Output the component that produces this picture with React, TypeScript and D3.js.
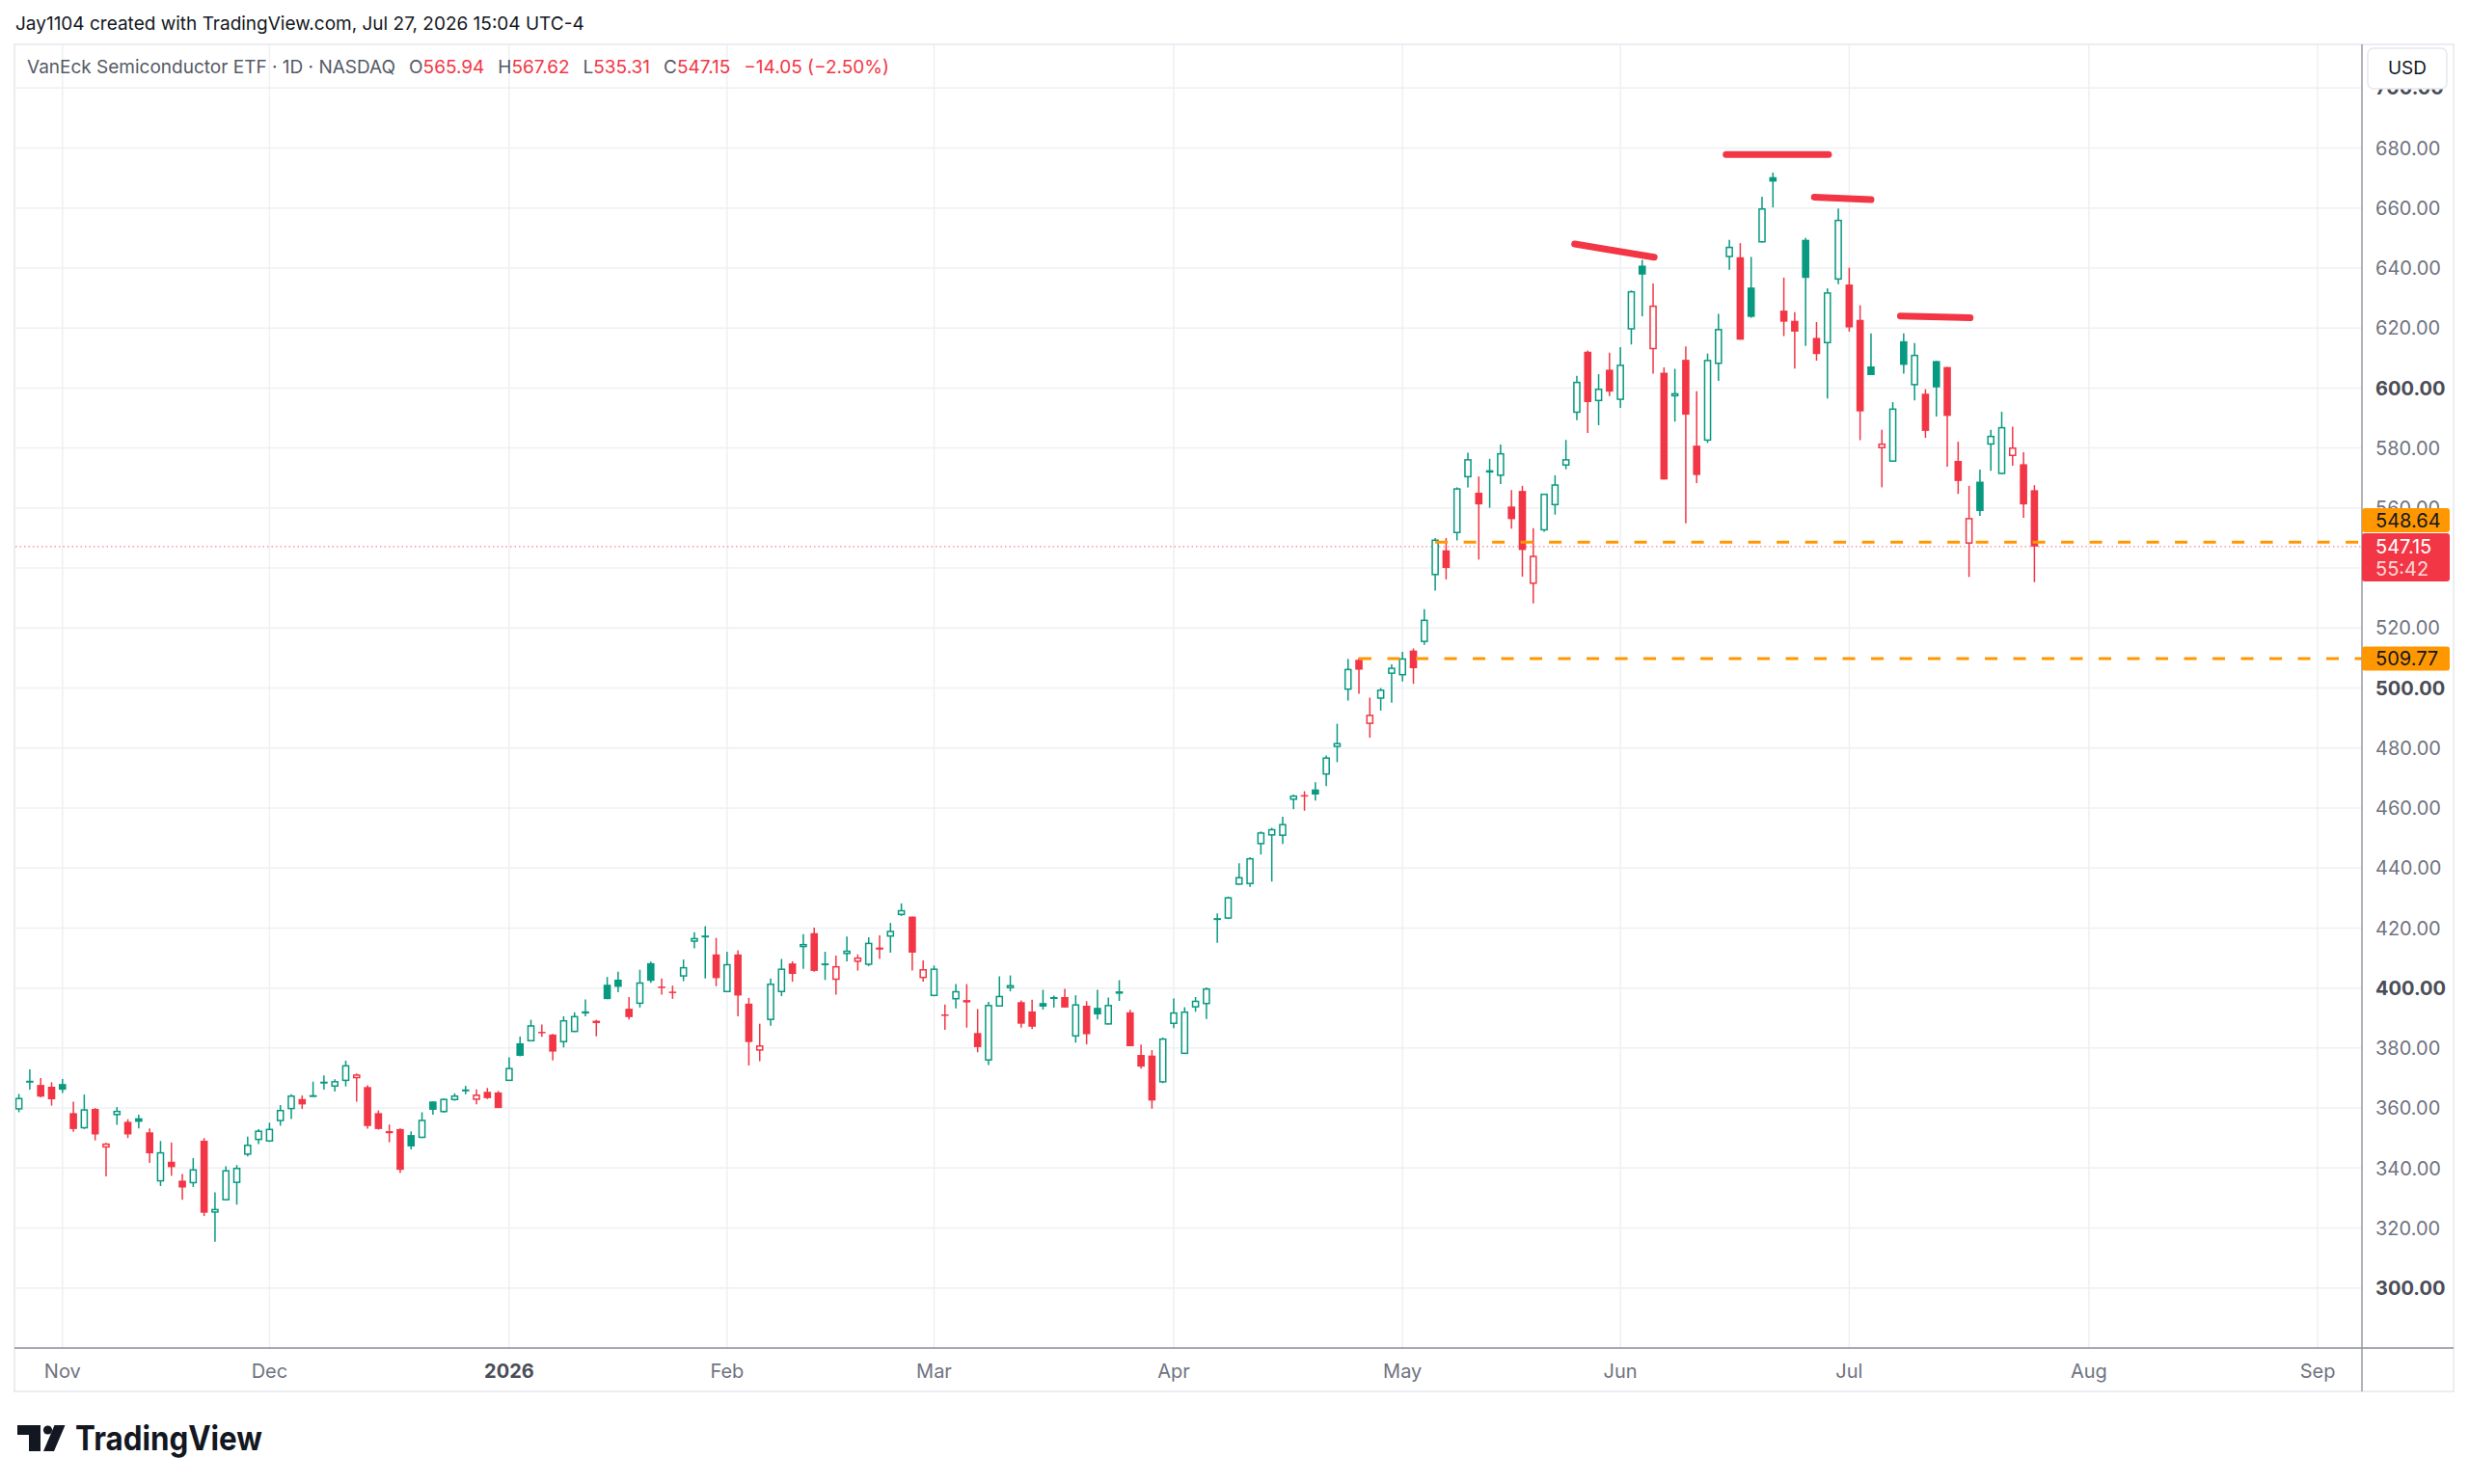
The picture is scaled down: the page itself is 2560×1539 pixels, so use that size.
import React from "react";
import * as d3 from "d3";

// daily OHLC, Oct 28 2025 .. Jul 27 2026 (one entry per trading day)
const opens = [
  359.5, 368.9, 367.7, 367.1,
  368.0, 358.3, 353.2, 359.7, 346.8, 357.6, 355.4, 356.6, 351.9, 335.5, 342.1, 335.8, 334.9, 349.1, 325.1, 329.2, 335.0, 344.4, 349.3,
  348.8, 355.6, 359.6, 363.0, 364.0, 368.2, 367.1, 369.0, 369.9, 367.0, 358.3, 351.6, 353.0, 351.0, 350.0, 362.2, 358.6, 362.6, 366.0, 362.7, 365.4, 365.2,
  369.0, 381.6, 382.2, 385.4, 384.5, 381.9, 385.3, 392.2, 389.1, 401.1, 402.8, 393.1, 394.7, 408.3, 400.5, 398.8, 403.8, 415.4, 417.3, 411.2,
  398.6, 411.2, 394.8, 379.1, 389.3, 398.6, 408.2, 413.6, 418.3, 408.2, 402.7, 411.3, 408.7, 407.7, 413.5, 417.1, 424.3, 423.8, 403.3,
  397.3, 391.2, 396.2, 396.0, 385.0, 375.8, 393.8, 399.9, 395.3, 392.2, 395.0, 396.8, 397.0, 383.8, 394.1, 393.4, 387.8, 398.1, 391.9, 377.7, 377.5, 368.5,
  388.0, 378.0, 393.5, 394.6, 423.0, 423.1, 434.4, 434.6, 447.9, 450.8, 450.7, 462.7, 464.3, 466.2, 471.1, 480.3, 499.4, 509.4, 488.0, 496.4, 504.7,
  504.2, 512.5, 515.3, 537.6, 545.9, 551.6, 570.2, 565.1, 571.8, 570.7, 560.5, 565.7, 534.7, 552.5, 560.9, 574.1, 591.7, 612.1, 595.6, 606.1,
  596.0, 619.5, 640.8, 612.9, 605.1, 597.2, 609.4, 580.8, 582.4, 608.0, 643.6, 643.6, 633.5, 648.5, 670.3, 625.8, 622.4, 649.4, 616.7, 614.9, 636.1,
  634.5, 622.7, 607.2, 579.9, 575.4, 615.6, 600.9, 598.1, 609.0, 607.0, 575.7, 548.1, 568.8, 581.1, 571.3, 577.3, 574.6, 565.94,
];
const highs = [
  364.7, 372.9, 370.0, 368.6,
  369.7, 362.1, 364.5, 360.0, 348.4, 360.3, 356.3, 357.8, 353.2, 349.0, 348.5, 338.0, 343.3, 350.0, 331.9, 340.6, 341.0, 350.5, 353.0,
  355.1, 361.0, 364.6, 364.2, 368.8, 370.9, 369.6, 375.8, 371.5, 367.6, 359.2, 354.5, 353.2, 352.2, 358.6, 362.2, 363.2, 364.9, 367.4, 366.2, 366.7, 365.7,
  376.9, 383.8, 389.4, 387.8, 384.7, 390.6, 391.9, 396.2, 389.4, 403.7, 405.4, 397.0, 406.1, 408.8, 403.2, 400.8, 409.5, 418.6, 420.6, 416.7,
  412.1, 412.6, 396.7, 388.1, 403.2, 409.7, 408.9, 418.0, 420.1, 412.1, 410.8, 417.2, 411.2, 416.9, 417.6, 421.7, 428.2, 423.8, 409.2,
  407.5, 394.5, 401.3, 401.3, 393.0, 395.4, 403.9, 404.2, 395.9, 396.1, 399.4, 397.5, 399.7, 397.6, 395.6, 399.4, 396.8, 402.6, 392.7, 381.2, 379.3, 383.5,
  396.5, 393.6, 397.0, 400.2, 424.9, 430.5, 441.6, 443.6, 452.2, 453.4, 457.1, 464.5, 465.6, 468.6, 477.5, 488.1, 509.7, 510.1, 496.8, 500.0, 507.9,
  512.1, 513.2, 526.3, 550.0, 550.0, 566.9, 578.4, 570.5, 576.4, 581.2, 566.0, 567.4, 553.3, 564.8, 570.9, 582.7, 604.1, 612.5, 604.6, 611.8,
  613.6, 632.5, 642.7, 634.8, 606.9, 606.4, 613.9, 598.9, 611.5, 624.7, 649.4, 648.3, 643.7, 663.8, 671.8, 636.8, 625.3, 650.0, 622.0, 633.2, 659.8,
  640.1, 627.6, 618.2, 586.1, 595.3, 618.2, 615.0, 599.6, 609.0, 607.0, 582.1, 567.4, 572.8, 586.1, 592.1, 587.1, 578.6, 567.62,
];
const lows = [
  358.6, 366.1, 363.6, 360.8,
  365.0, 352.1, 353.0, 349.2, 337.2, 354.4, 350.0, 353.2, 341.7, 334.0, 337.4, 329.4, 333.7, 324.0, 315.4, 329.2, 327.8, 343.9, 348.0,
  348.7, 354.1, 356.3, 359.7, 364.0, 366.1, 365.5, 367.2, 362.1, 353.1, 352.8, 348.6, 338.3, 346.2, 350.0, 357.8, 358.4, 362.4, 364.6, 361.2, 363.0, 360.0,
  369.0, 377.2, 382.2, 383.7, 375.9, 380.2, 385.3, 390.6, 383.9, 396.3, 398.6, 389.5, 393.5, 401.7, 397.8, 396.4, 402.3, 413.2, 403.2, 400.6,
  398.6, 390.6, 374.2, 375.6, 387.4, 397.3, 402.1, 406.4, 405.4, 402.7, 397.8, 408.9, 405.8, 407.3, 409.7, 411.8, 424.0, 405.8, 402.1,
  397.3, 386.1, 393.2, 386.8, 378.6, 374.3, 393.8, 398.9, 386.8, 386.3, 392.8, 393.5, 393.5, 381.8, 381.2, 389.5, 387.8, 395.7, 380.6, 373.1, 359.8, 368.3,
  386.6, 378.0, 392.1, 389.7, 415.1, 423.0, 434.4, 433.7, 444.5, 435.5, 448.0, 459.6, 459.1, 462.5, 467.3, 475.3, 495.8, 498.1, 483.4, 492.5, 495.1,
  502.2, 501.4, 514.4, 532.5, 536.2, 549.2, 566.9, 542.8, 560.1, 568.0, 553.1, 537.1, 528.2, 552.1, 557.8, 572.9, 589.3, 585.0, 587.6, 597.3,
  593.4, 614.5, 623.9, 604.8, 569.5, 588.8, 554.9, 568.3, 581.7, 602.4, 639.4, 616.1, 623.4, 648.5, 660.2, 617.3, 606.5, 614.0, 609.1, 596.5, 634.6,
  618.8, 582.6, 604.3, 566.9, 575.4, 604.8, 595.9, 583.4, 590.5, 573.8, 564.7, 537.0, 557.4, 572.4, 571.3, 574.1, 556.7, 535.31,
];
const closes = [
  363.4, 369.1, 363.8, 362.9,
  366.1, 353.0, 359.6, 351.2, 348.2, 359.1, 351.2, 355.4, 344.9, 345.3, 340.3, 333.5, 339.6, 325.1, 326.4, 339.3, 340.1, 347.8, 352.5,
  353.1, 359.4, 364.2, 361.2, 364.3, 368.8, 369.0, 374.3, 371.2, 354.0, 353.0, 352.3, 339.4, 347.2, 356.1, 359.4, 363.1, 364.2, 366.2, 364.5, 363.3, 360.0,
  373.4, 377.4, 387.6, 385.1, 378.8, 389.3, 390.7, 391.5, 388.3, 396.3, 400.4, 390.3, 401.9, 402.4, 400.3, 398.6, 407.0, 416.7, 417.5, 403.3,
  408.0, 397.5, 382.0, 380.9, 401.5, 406.5, 404.7, 414.7, 405.7, 407.6, 407.3, 412.5, 410.2, 415.1, 412.8, 419.1, 426.0, 411.8, 406.3,
  406.5, 391.0, 399.0, 395.2, 380.3, 394.4, 397.4, 401.0, 388.1, 387.1, 393.8, 397.0, 393.5, 394.6, 384.6, 391.2, 394.4, 398.9, 380.6, 373.8, 362.5, 383.2,
  391.9, 392.2, 395.8, 399.9, 423.3, 430.3, 437.0, 443.3, 451.9, 453.0, 454.7, 464.2, 464.0, 464.5, 476.9, 481.7, 506.4, 506.1, 491.1, 499.5, 506.8,
  509.9, 506.6, 522.8, 549.5, 540.0, 566.6, 576.3, 561.2, 572.6, 578.3, 556.3, 546.0, 544.1, 564.8, 567.9, 576.3, 602.1, 595.3, 599.8, 598.8,
  607.8, 632.3, 637.8, 627.5, 569.5, 598.3, 591.1, 571.0, 609.4, 619.7, 647.1, 616.1, 623.7, 659.9, 668.8, 622.1, 618.8, 636.7, 611.3, 631.9, 656.1,
  620.2, 592.2, 604.3, 581.5, 593.2, 607.7, 611.1, 585.7, 600.2, 590.7, 569.0, 556.7, 559.0, 584.1, 587.0, 580.2, 561.2, 547.15,
];

// time axis: label and the bar index of the first trading day of that month
const monthLabels = ["Nov", "Dec", "2026", "Feb", "Mar", "Apr", "May", "Jun", "Jul", "Aug", "Sep"];
const monthBars = [4, 23, 45, 65, 84, 106, 127, 147, 168, 190, 211];

const priceTicks = [300, 320, 340, 360, 380, 400, 420, 440, 460, 480, 500, 520, 540, 560, 580, 600, 620, 640, 660, 680, 700];
// 540 sits fully under the last-price tag, so no label is drawn for it
const hiddenTicks = [540];

// horizontal rays drawn on the chart
const rayPrices = [548.64, 509.77];
const rayStartBars = [130, 123];

// hand-drawn marks above the tops: [bar0, price0, bar1, price1]
const marks = [
  [142.8, 648.0, 150.1, 643.6],
  [156.7, 677.8, 166.1, 677.8],
  [164.8, 663.6, 170.0, 662.8],
  [172.7, 624.0, 179.1, 623.4],
];

const legendName = "VanEck Semiconductor ETF · 1D · NASDAQ";
const legendKeys = ["O", "H", "L", "C"];
const legendVals = ["565.94", "567.62", "535.31", "547.15"];
const legendChange = "−14.05 (−2.50%)";
const lastPrice = 547.15;
const countdown = "55:42";

const UP = "#089981";
const DOWN = "#f23645";
const FONT = "Inter, 'Noto Sans', sans-serif";

const App: React.FC = () => {
  const width = 2560;
  const height = 1539;
  const plot = { left: 16, right: 2449, top: 46, bottom: 1398 };
  const frameRight = 2544;
  const frameBottom = 1443;

  const x = d3.scaleLinear().domain([0, 211]).range([19.6, 2403.1]);
  const y = d3.scaleLinear().domain([280, 714.55]).range([plot.bottom, plot.top]);

  const bodyW = 7.6;

  return (
    <svg
      width={width}
      height={height}
      style={{ position: "absolute", left: 0, top: 0, background: "#ffffff" }}
      fontFamily={FONT}
    >
      <rect width={width} height={height} fill="#ffffff" />

      {/* top caption */}
      <text x={16} y={31} fontSize={19} fill="#131722">
        Jay1104 created with TradingView.com, Jul 27, 2026 15:04 UTC-4
      </text>

      <defs>
        <clipPath id="plotClip">
          <rect x={plot.left} y={plot.top} width={plot.right - plot.left} height={plot.bottom - plot.top} />
        </clipPath>
      </defs>

      {/* grid */}
      <g>
        {priceTicks.map((p) => (
          <line key={p} x1={plot.left} x2={plot.right} y1={y(p)} y2={y(p)} stroke="#eef0f3" strokeWidth={1.5} />
        ))}
        {monthBars.map((b) => (
          <line key={b} x1={x(b)} x2={x(b)} y1={plot.top} y2={plot.bottom} stroke="#eef0f3" strokeWidth={1.5} />
        ))}
      </g>

      {/* frame */}
      <rect
        x={15}
        y={plot.top}
        width={frameRight - 15}
        height={frameBottom - plot.top}
        fill="none"
        stroke="#e6e8ee"
        strokeWidth={1.5}
      />

      <g clipPath="url(#plotClip)">
        {/* last price dotted line */}
        <line
          x1={plot.left}
          x2={plot.right}
          y1={y(lastPrice)}
          y2={y(lastPrice)}
          stroke={DOWN}
          strokeWidth={1.3}
          strokeDasharray="1.5 3"
          opacity={0.6}
        />

        {/* candles */}
        {closes.map((c, i) => {
          const o = opens[i];
          const prev = i > 0 ? closes[i - 1] : o - 1;
          const color = c >= prev ? UP : DOWN;
          const hollow = c >= o;
          const cx = x(i);
          const top = y(Math.max(o, c));
          const bot = y(Math.min(o, c));
          const h = Math.max(bot - top, 1.5);
          return (
            <g key={i}>
              <line x1={cx} x2={cx} y1={y(highs[i])} y2={y(lows[i])} stroke={color} strokeWidth={1.5} />
              {hollow ? (
                <rect
                  x={cx - bodyW / 2 + 0.75}
                  y={top + 0.75}
                  width={bodyW - 1.5}
                  height={Math.max(h - 1.5, 0.5)}
                  fill="#ffffff"
                  stroke={color}
                  strokeWidth={1.5}
                />
              ) : (
                <rect x={cx - bodyW / 2} y={top} width={bodyW} height={h} fill={color} />
              )}
            </g>
          );
        })}

        {/* orange rays */}
        {rayPrices.map((p, k) => (
          <line
            key={p}
            x1={x(rayStartBars[k])}
            x2={plot.right}
            y1={y(p)}
            y2={y(p)}
            stroke="#ff9800"
            strokeWidth={3}
            strokeDasharray="13 16.5"
          />
        ))}

        {/* hand-drawn marks */}
        {marks.map((m, k) => (
          <line
            key={k}
            x1={x(m[0])}
            y1={y(m[1])}
            x2={x(m[2])}
            y2={y(m[3])}
            stroke={DOWN}
            strokeWidth={7}
            strokeLinecap="round"
          />
        ))}
      </g>

      {/* legend */}
      <text x={28} y={76} fontSize={19} fill="#555a66">
        <tspan>{legendName}</tspan>
        {legendKeys.map((k, i) => (
          <React.Fragment key={k}>
            <tspan dx={14} fill="#555a66">{k}</tspan>
            <tspan fill={DOWN}>{legendVals[i]}</tspan>
          </React.Fragment>
        ))}
        <tspan dx={14} fill={DOWN}>{legendChange}</tspan>
      </text>

      {/* axes lines */}
      <line x1={15} x2={frameRight} y1={plot.bottom} y2={plot.bottom} stroke="#8a8d96" strokeWidth={1.5} />
      <line x1={plot.right} x2={plot.right} y1={plot.top} y2={frameBottom} stroke="#9598a1" strokeWidth={1.5} />

      {/* price labels */}
      {priceTicks
        .filter((p) => !hiddenTicks.includes(p))
        .map((p) => (
          <text
            key={p}
            x={2463}
            y={y(p)}
            dy="0.36em"
            fontSize={20}
            fontWeight={p % 100 === 0 ? 700 : 400}
            fill={p % 100 === 0 ? "#4a4d57" : "#6f7380"}
          >
            {p.toFixed(2)}
          </text>
        ))}

      {/* USD box */}
      <rect x={2455} y={50} width={82} height={42} rx={6} fill="#ffffff" stroke="#e6e8ee" strokeWidth={1.5} />
      <text x={2496} y={70} dy="0.36em" textAnchor="middle" fontSize={19} fill="#131722">
        USD
      </text>

      {/* price tags */}
      <rect x={plot.right} y={527} width={91} height={25} rx={3} fill="#ff9800" />
      <text x={2463} y={539.5} dy="0.36em" fontSize={20} fill="#131722">
        {rayPrices[0].toFixed(2)}
      </text>
      <rect x={plot.right} y={553} width={91} height={50} rx={3} fill={DOWN} />
      <text x={2463} y={566.5} dy="0.36em" fontSize={20} fill="#ffffff">
        {lastPrice.toFixed(2)}
      </text>
      <text x={2463} y={589.5} dy="0.36em" fontSize={20} fill="#ffffff" opacity={0.8}>
        {countdown}
      </text>
      <rect x={plot.right} y={y(rayPrices[1]) - 12.5} width={91} height={25} rx={3} fill="#ff9800" />
      <text x={2463} y={y(rayPrices[1])} dy="0.36em" fontSize={20} fill="#131722">
        {rayPrices[1].toFixed(2)}
      </text>

      {/* time labels */}
      {monthLabels.map((m, i) => (
        <text
          key={m}
          x={x(monthBars[i])}
          y={1422}
          dy="0.36em"
          textAnchor="middle"
          fontSize={20}
          fontWeight={m === "2026" ? 700 : 400}
          fill={m === "2026" ? "#4a4d57" : "#6f7380"}
        >
          {m}
        </text>
      ))}

      {/* logo */}
      <g fill="#131722">
        <path d="M18,1478 H42 V1505 H30 V1488 H18 Z" />
        <circle cx={49.5} cy={1483} r={4.6} />
        <path d="M56.5,1478 H67.5 L56,1505 H45 Z" />
        <text x={78} y={1504} fontSize={35} fontWeight={700} textLength={194} lengthAdjust="spacingAndGlyphs">
          TradingView
        </text>
      </g>
    </svg>
  );
};

export default App;
